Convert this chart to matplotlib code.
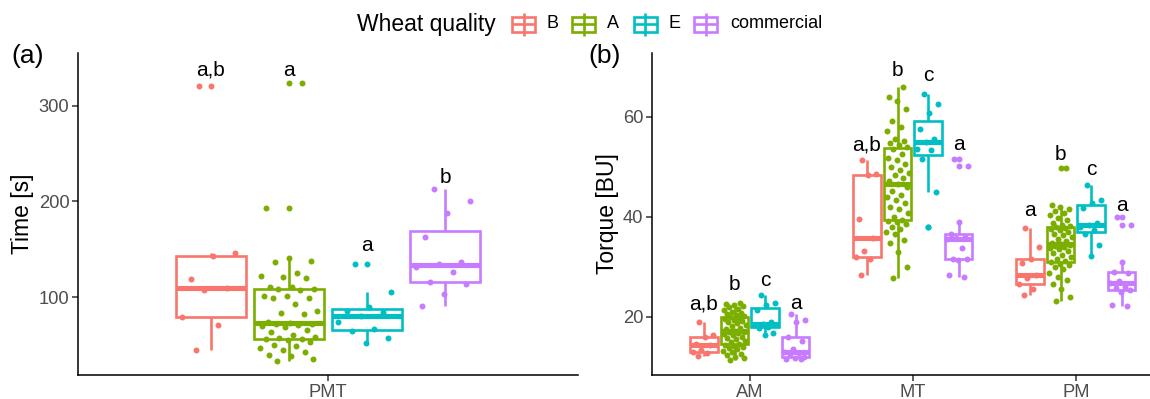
import matplotlib
matplotlib.use("Agg")
import matplotlib.pyplot as plt
from matplotlib.patches import Rectangle
from matplotlib.lines import Line2D

plt.rcParams['font.family'] = ['Liberation Sans', 'DejaVu Sans']

# ---------------- data ----------------
groups = ["B", "A", "E", "commercial"]
colors = ["#F8766D", "#7CAE00", "#00BFC4", "#C77CFF"]

# Panel (a): time [s] at PMT
pmt_B = [321, 145.8, 143, 119, 109, 107.4, 79.5, 70.8, 44.7]
pmt_A = [33.6, 35, 38.5, 39, 43, 45, 47, 49, 50, 53, 55, 56,
         56.5, 57, 58, 60, 63, 66, 69.1, 70, 71, 71.5, 71.9, 72.5,
         74, 82.3, 83.7, 85.8, 92.5, 99, 99, 101, 101, 107.4, 108,
         108.5, 110, 110.9, 119.6, 121.3, 122, 124.9, 136.7, 138, 140.5, 193.4, 324]
pmt_E = [134, 105.3, 89.6, 85.8, 84, 80.6, 74, 67, 64, 57, 52.4]
pmt_C = [213, 200.8, 187.6, 163, 137, 134.6, 131.8, 126.2, 115.8, 113.4, 103, 90.7]
letters_pmt = ["a,b", "a", "a", "b"]
letters_pmt_y = [331, 331, 148.5, 219]

# Panel (b): torque [BU]
torque_cats = ["AM", "MT", "PM"]
am_B = [18.9, 16.3, 16.0, 14.5, 14.3, 13.3, 13.0, 12.7, 12.1]
am_A = [11.3, 11.8, 12.0, 12.3, 12.6, 12.9, 13.2, 13.5, 13.8, 14.0, 14.2, 14.4,
        14.6, 14.9, 15.2, 15.5, 15.8, 16.0, 16.3, 16.5, 16.7, 16.9, 17.0, 17.2,
        17.5, 17.8, 18.1, 18.4, 18.7, 18.9, 19.2, 19.4, 19.6, 19.8, 19.9,
        20.1, 20.3, 20.5, 20.8, 21.0, 21.3, 21.6, 21.9, 22.1, 22.3, 22.5, 22.7]
am_E = [24.4, 22.7, 22.3, 21.3, 19.0, 18.5, 18.3, 18.0, 17.7, 16.7, 16.3]
am_C = [20.5, 19.3, 18.9, 16.0, 15.2, 13.5, 13.0, 12.7, 12.5, 12.0, 11.8, 11.5, 11.5]

mt_B = [51.3, 48.5, 48.3, 39.6, 35.7, 33.1, 31.9, 31.6, 28.3]
mt_A = [27.7, 30.0, 33.0, 34.7, 35.3, 36.5, 37.0, 37.5, 38.0, 38.5, 38.9, 39.2,
        39.4, 40.0, 40.7, 41.5, 42.0, 42.8, 43.3, 44.0, 44.4, 45.2, 46.0, 46.6,
        47.2, 47.8, 48.3, 48.8, 49.3, 50.0, 50.6, 51.3, 51.8, 52.6, 53.5,
        53.9, 54.3, 54.8, 55.2, 55.6, 57.2, 58.0, 59.2, 61.5, 63.2, 63.9, 65.9]
mt_E = [64.5, 62.5, 60.7, 57.5, 55.5, 55.0, 53.5, 53.3, 51.5, 45.0, 38.0]
mt_C = [51.5, 50.1, 39.0, 36.6, 36.0, 35.8, 35.6, 33.7, 31.6, 31.5, 31.3, 28.3, 28.0]

pm_B = [37.7, 34.0, 31.5, 30.8, 28.3, 27.8, 26.5, 25.5, 24.3]
pm_A = [23.1, 24.0, 25.5, 26.5, 27.3, 28.0, 28.8, 29.5, 30.0, 30.3, 30.6, 30.9,
        31.1, 31.5, 32.0, 32.4, 32.8, 33.1, 33.5, 33.8, 34.0, 34.2, 34.4, 34.5,
        34.8, 35.2, 35.5, 35.9, 36.3, 36.6, 37.0, 37.3, 37.6, 37.8, 37.9,
        38.1, 38.4, 38.8, 39.3, 39.8, 40.3, 40.8, 41.2, 41.6, 42.0, 42.3, 49.7]
pm_E = [46.3, 43.3, 42.8, 41.7, 38.8, 38.4, 38.0, 37.3, 36.5, 34.4, 32.1]
pm_C = [39.9, 38.4, 30.9, 29.0, 28.8, 27.2, 26.7, 26.0, 25.8, 25.3, 25.0, 22.3, 22.1]

letters_torque = [["a,b", "b", "c", "a"], ["a,b", "b", "c", "a"], ["a", "b", "c", "a"]]
letters_torque_y = [[21.5, 25.3, 26.2, 21.5], [53.2, 68.1, 67.1, 53.3], [40.2, 51.3, 48.3, 41.2]]

# ---------------- style ----------------
W_PX, H_PX = 1150, 399
DODGE = 0.75
SLOT = DODGE / 4
BOXW = SLOT * 0.9
LW = 1.9
MLW = 3.7
MS = 4.3
JIT = 0.07
TICK_C = "#4D4D4D"


def offsets():
    return [(-1.5 + k) * SLOT for k in range(4)]


def draw_group(ax, pos, vals, color):
    ax.boxplot([vals], positions=[pos], widths=BOXW, whis=1.5, showcaps=False,
               patch_artist=True, manage_ticks=False,
               boxprops=dict(facecolor='white', edgecolor=color, linewidth=LW),
               whiskerprops=dict(color=color, linewidth=LW, solid_capstyle='butt'),
               medianprops=dict(color=color, linewidth=MLW, solid_capstyle='butt'),
               flierprops=dict(marker='o', markerfacecolor=color, markeredgecolor='none',
                               markersize=MS))
    n = len(vals)
    xs = [pos + ((i * 0.6180339887 + 0.3) % 1.0 - 0.5) * 2 * JIT for i in range(n)]
    ax.scatter(xs, vals, s=MS ** 2, color=color, zorder=3, linewidths=0)


def style_axes(ax):
    for s in ["top", "right"]:
        ax.spines[s].set_visible(False)
    for s in ["left", "bottom"]:
        ax.spines[s].set_linewidth(1.1)
        ax.spines[s].set_color("black")
    ax.tick_params(axis='both', length=4.3, width=1.1, color="#333333",
                   labelsize=13.2, labelcolor=TICK_C, pad=2)


fig = plt.figure(figsize=(W_PX / 100, H_PX / 100), dpi=100)


def px_axes(x0, y0, x1, y1):
    return fig.add_axes([x0 / W_PX, 1 - y1 / H_PX, (x1 - x0) / W_PX, (y1 - y0) / H_PX])


# ---- panel (a)
axa = px_axes(78, 53, 578, 375)
pmt_data = [pmt_B, pmt_A, pmt_E, pmt_C]
for k, (vals, col) in enumerate(zip(pmt_data, colors)):
    draw_group(axa, 1 + offsets()[k], vals, col)
for k in range(4):
    axa.text(1 + offsets()[k], letters_pmt_y[k], letters_pmt[k], ha='center',
             va='baseline', fontsize=15, color='black')
axa.set_xlim(0.4, 1.6)
axa.set_ylim(18.5, 355)
axa.set_xticks([1])
axa.set_xticklabels(["PMT"])
axa.set_yticks([100, 200, 300])
axa.set_ylabel("Time [s]", fontsize=16.5, labelpad=3)
style_axes(axa)

# ---- panel (b)
axb = px_axes(652, 53, 1150, 375)
torque_data = [[am_B, am_A, am_E, am_C], [mt_B, mt_A, mt_E, mt_C], [pm_B, pm_A, pm_E, pm_C]]
for c, cat_vals in enumerate(torque_data):
    for k, (vals, col) in enumerate(zip(cat_vals, colors)):
        draw_group(axb, c + 1 + offsets()[k], vals, col)
        axb.text(c + 1 + offsets()[k], letters_torque_y[c][k], letters_torque[c][k],
                 ha='center', va='baseline', fontsize=15, color='black')
axb.set_xlim(0.4, 0.4 + (1150 - 652) / 163.0)
axb.set_ylim(8.3, 72.7)
axb.set_xticks([1, 2, 3])
axb.set_xticklabels(torque_cats)
axb.set_yticks([20, 40, 60])
axb.set_ylabel("Torque [BU]", fontsize=16.5, labelpad=2.5)
style_axes(axb)

# ---- overlay: panel tags and legend
ov = fig.add_axes([0, 0, 1, 1])
ov.set_xlim(0, W_PX)
ov.set_ylim(H_PX, 0)
ov.axis('off')
ov.patch.set_visible(False)

ov.text(28, 56, "(a)", ha='center', va='center', fontsize=19)
ov.text(605, 56, "(b)", ha='center', va='center', fontsize=19)

ov.text(357, 24, "Wheat quality", ha='left', va='center', fontsize=16.5)
key_x = [523.5, 583.5, 645, 705.5]
lab_x = [547, 607, 668, 730]
for kx, lx, col, g in zip(key_x, lab_x, colors, groups):
    ov.add_line(Line2D([kx, kx], [12.7, 36], color=col, lw=LW, solid_capstyle='butt'))
    ov.add_patch(Rectangle((kx - 11.5, 16.7), 23, 15, facecolor='white',
                           edgecolor=col, lw=LW))
    ov.add_line(Line2D([kx - 11.5, kx + 11.5], [24, 24], color=col, lw=LW,
                       solid_capstyle='butt'))
    ov.text(lx, 24, g, ha='left', va='center', fontsize=13)

fig.savefig("out.png", dpi=100)
